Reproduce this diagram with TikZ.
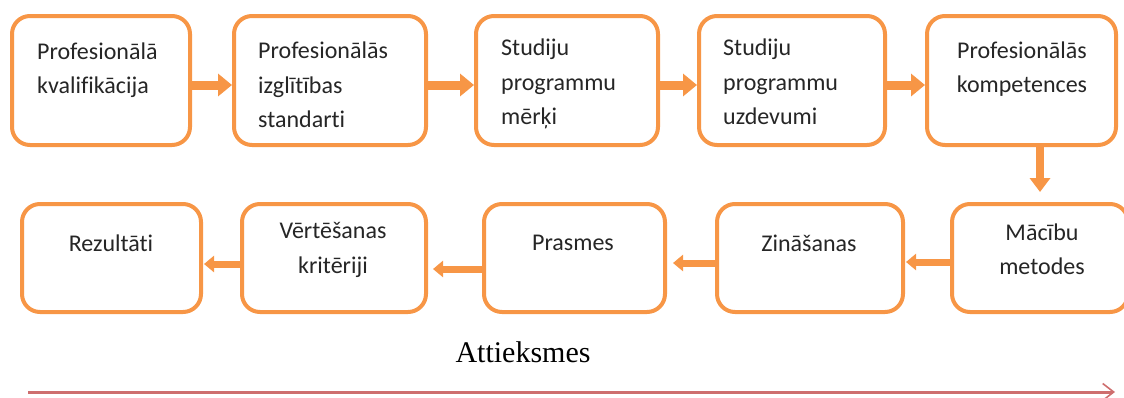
\documentclass[tikz,border=0pt]{standalone}
\usepackage{fontspec}
\setmainfont{Carlito}[Ligatures={NoCommon}]
\newfontfamily\serifattr{Liberation Serif}
\usetikzlibrary{arrows.meta}
\definecolor{boxorange}{RGB}{247,150,70}
\definecolor{txtgray}{RGB}{38,38,38}
\definecolor{attrred}{RGB}{206,110,110}
\tikzset{
  stagebox/.style={draw=boxorange, line width=4pt, rounded corners=18pt, fill=white, inner sep=0pt},
  boxtext/.style={text=txtgray, font=\fontsize{24}{34.5}\selectfont, inner sep=0pt},
  toparrow/.style={draw=boxorange, line width=9pt, -{Triangle[length=14pt,width=22pt]}},
  downarrow/.style={draw=boxorange, line width=8pt, -{Triangle[length=14pt,width=20pt]}},
  backarrow/.style={draw=boxorange, line width=7pt, -{Triangle[length=10pt,width=16pt]}},
  attrarrow/.style={draw=attrred, line width=3pt, -{Straight Barb[length=11pt,width=17pt,line width=1.6pt]}}
}
\begin{document}
\begin{tikzpicture}[x=1pt,y=-1pt]
\useasboundingbox (0,0) rectangle (1124,397);
% top row boxes
\node[stagebox, minimum width=178pt, minimum height=129pt] (b1) at (101,80.5) {};
\node[stagebox, minimum width=192pt, minimum height=129pt] (b2) at (330,80.5) {};
\node[stagebox, minimum width=182pt, minimum height=129pt] (b3) at (567,80.5) {};
\node[stagebox, minimum width=186pt, minimum height=129pt] (b4) at (792,80.5) {};
\node[stagebox, minimum width=189pt, minimum height=129pt] (b5) at (1021.5,80.5) {};
% bottom row boxes
\node[stagebox, minimum width=179pt, minimum height=108pt] (c1) at (111.5,258) {};
\node[stagebox, minimum width=184pt, minimum height=108pt] (c2) at (334,258) {};
\node[stagebox, minimum width=181pt, minimum height=108pt] (c3) at (574.5,258) {};
\node[stagebox, minimum width=186pt, minimum height=108pt] (c4) at (810,258) {};
\node[stagebox, minimum width=176pt, minimum height=108pt] (c5) at (1040,258) {};
% texts top row
\node[boxtext, anchor=west, align=left] (t1) at (37,70) {Profesionālā\\kvalifikācija};
\node[boxtext, anchor=west, align=left] (t2) at (258,85) {Profesionālās\\izglītības\\standarti};
\node[boxtext, anchor=west, align=left] (t3) at (501,84) {Studiju\\programmu\\mērķi};
\node[boxtext, anchor=west, align=left] (t4) at (723,82) {Studiju\\programmu\\uzdevumi};
\node[boxtext, align=center] (t5) at (1022,69) {Profesionālās\\kompetences};
% texts bottom row
\node[boxtext] (u1) at (111,243) {Rezultāti};
\node[boxtext, align=center] (u2) at (333,250) {Vērtēšanas\\kritēriji};
\node[boxtext] (u3) at (573,243) {Prasmes};
\node[boxtext] (u4) at (809,243) {Zināšanas};
\node[boxtext, align=center] (u5) at (1042,249) {Mācību\\metodes};
% helper coordinates
\coordinate (ytop) at (0,85);
\coordinate (ydown) at (1040,0);
% top arrows
\draw[toparrow] (b1.east |- ytop) -- (b2.west |- ytop);
\draw[toparrow] (b2.east |- ytop) -- (b3.west |- ytop);
\draw[toparrow] (b3.east |- ytop) -- (b4.west |- ytop);
\draw[toparrow] (b4.east |- ytop) -- (b5.west |- ytop);
% down arrow
\draw[downarrow, shorten >=10pt] (b5.south -| ydown) -- (c5.north -| ydown);
% back arrows
\coordinate (ya) at (0,262);
\coordinate (yb) at (0,263);
\coordinate (yc) at (0,269);
\coordinate (yd) at (0,264);
\draw[backarrow, shorten >=1pt] (c5.west |- ya) -- (c4.east |- ya);
\draw[backarrow, shorten >=6pt] (c4.west |- yb) -- (c3.east |- yb);
\draw[backarrow, shorten >=5pt] (c3.west |- yc) -- (c2.east |- yc);
\draw[backarrow, shorten >=1pt] (c2.west |- yd) -- (c1.east |- yd);
% attitude
\node[text=black, font=\serifattr\fontsize{30}{36}\selectfont, anchor=base, inner sep=0pt] (att) at (523,362) {Attieksmes};
\coordinate (rs) at (28,392);
\coordinate (re) at (1115,392);
\draw[attrarrow] (rs) -- (re);
\end{tikzpicture}
\end{document}
